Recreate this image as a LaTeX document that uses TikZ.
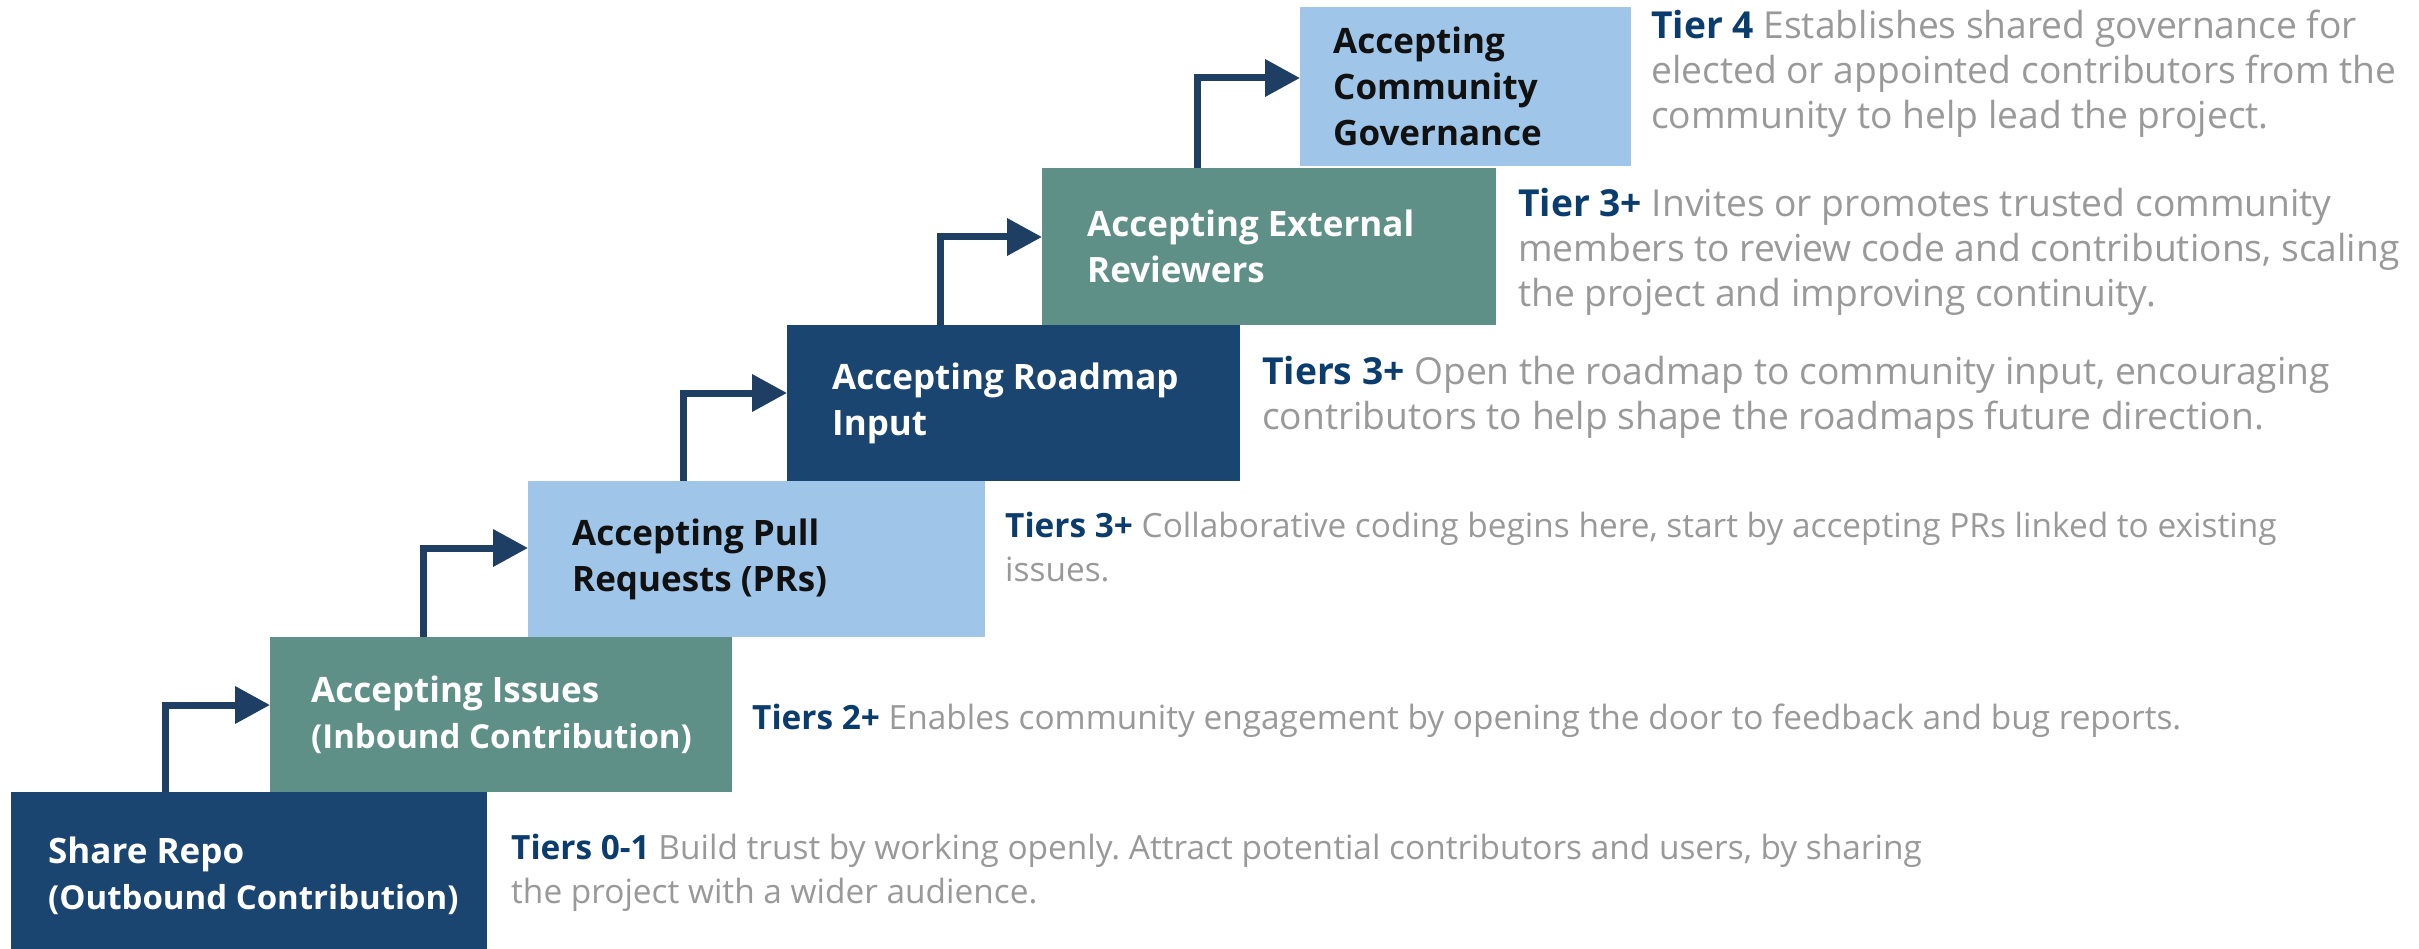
\documentclass[tikz,border=0pt]{standalone}
\usepackage{fontspec}
\setmainfont{Open Sans}
\usetikzlibrary{arrows.meta}
\frenchspacing
\definecolor{navybox}{HTML}{1B4571}
\definecolor{tealbox}{HTML}{5F9088}
\definecolor{lightbox}{HTML}{9FC5E8}
\definecolor{arrowcol}{HTML}{1E3F63}
\definecolor{tiercol}{HTML}{0B3C6E}
\definecolor{desccol}{HTML}{999999}
\definecolor{darktext}{HTML}{111111}
\newcommand{\tierlbl}[1]{\textcolor{tiercol}{\bfseries #1}}
\newcommand{\paren}[1]{{\fontsize{33}{46}\selectfont #1}}
\begin{document}
\begin{tikzpicture}[x=1pt,y=-1pt,
  stepbox/.style={draw=none, inner sep=0pt, outer sep=0pt},
  boxlabel/.style={font=\fontsize{35}{46}\selectfont\bfseries, align=left, inner sep=0pt, anchor=west},
  desc/.style={font=\fontsize{33.4}{44}\selectfont, text=desccol, align=left, inner sep=0pt, anchor=west},
  descbig/.style={desc, font=\fontsize{37.2}{45}\selectfont},
  conn/.style={draw=arrowcol, line width=7pt, -{Triangle[length=35pt,width=36pt]}, line join=miter},
]
\useasboundingbox (0,0) rectangle (2419,949);
\fill[white] (0,0) rectangle (2419,949);
% steps
\node[stepbox, fill=navybox, minimum width=476, minimum height=157] (b1) at (249,870.5) {};
\node[stepbox, fill=tealbox, minimum width=462, minimum height=155] (b2) at (501,714.5) {};
\node[stepbox, fill=lightbox, minimum width=457, minimum height=156] (b3) at (756.5,559) {};
\node[stepbox, fill=navybox, minimum width=453, minimum height=156] (b4) at (1013.5,403) {};
\node[stepbox, fill=tealbox, minimum width=454, minimum height=157] (b5) at (1269,246.5) {};
\node[stepbox, fill=lightbox, minimum width=331, minimum height=159] (b6) at (1465.5,86.5) {};
% labels
\node[boxlabel, text=white] (l1) at ([xshift=37pt, yshift=-5pt]b1.west) {Share Repo\\\paren{(Outbound Contribution)}};
\node[boxlabel, text=white] (l2) at ([xshift=41pt]b2.west) {Accepting Issues\\\paren{(Inbound Contribution)}};
\node[boxlabel, text=darktext] (l3) at ([xshift=44pt]b3.west) {Accepting Pull\\Requests (PRs)};
\node[boxlabel, text=white] (l4) at ([xshift=45pt]b4.west) {Accepting Roadmap\\Input};
\node[boxlabel, text=white] (l5) at ([xshift=45pt]b5.west) {Accepting External\\Reviewers};
\node[boxlabel, text=darktext] (l6) at ([xshift=33pt]b6.west) {Accepting\\Community\\Governance};
% connectors
\draw[conn] ([xshift=-84pt]b1.north) |- ([yshift=9.5pt]b2.west);
\draw[conn] ([xshift=-78pt]b2.north) |- ([yshift=11pt]b3.west);
\draw[conn] ([xshift=-73.5pt]b3.north) |- ([yshift=10pt]b4.west);
\draw[conn] ([xshift=-73.5pt]b4.north) |- ([yshift=9.5pt]b5.west);
\draw[conn] ([xshift=-72pt]b5.north) |- ([yshift=8.5pt]b6.west);
% descriptions
\node[desc] (d1) at (511,873) {\tierlbl{Tiers 0-1} Build trust by working openly. Attract potential contributors and users, by sharing\\the project with a wider audience.};
\node[desc] (d2) at (752,721) {\tierlbl{Tiers 2+} Enables community engagement by opening the door to feedback and bug reports.};
\node[desc] (d3) at (1005,547) {\tierlbl{Tiers 3+} Collaborative coding begins here, start by accepting PRs linked to existing\\issues.};
\node[descbig] (d4) at (1262,397) {\tierlbl{Tiers 3+} Open the roadmap to community input, encouraging\\contributors to help shape the roadmaps future direction.};
\node[descbig] (d5) at (1518,252) {\tierlbl{Tier 3+} Invites or promotes trusted community\\members to review code and contributions, scaling\\the project and improving continuity.};
\node[descbig] (d6) at (1651,74) {\tierlbl{Tier 4} Establishes shared governance for\\elected or appointed contributors from the\\community to help lead the project.};
\end{tikzpicture}
\end{document}
